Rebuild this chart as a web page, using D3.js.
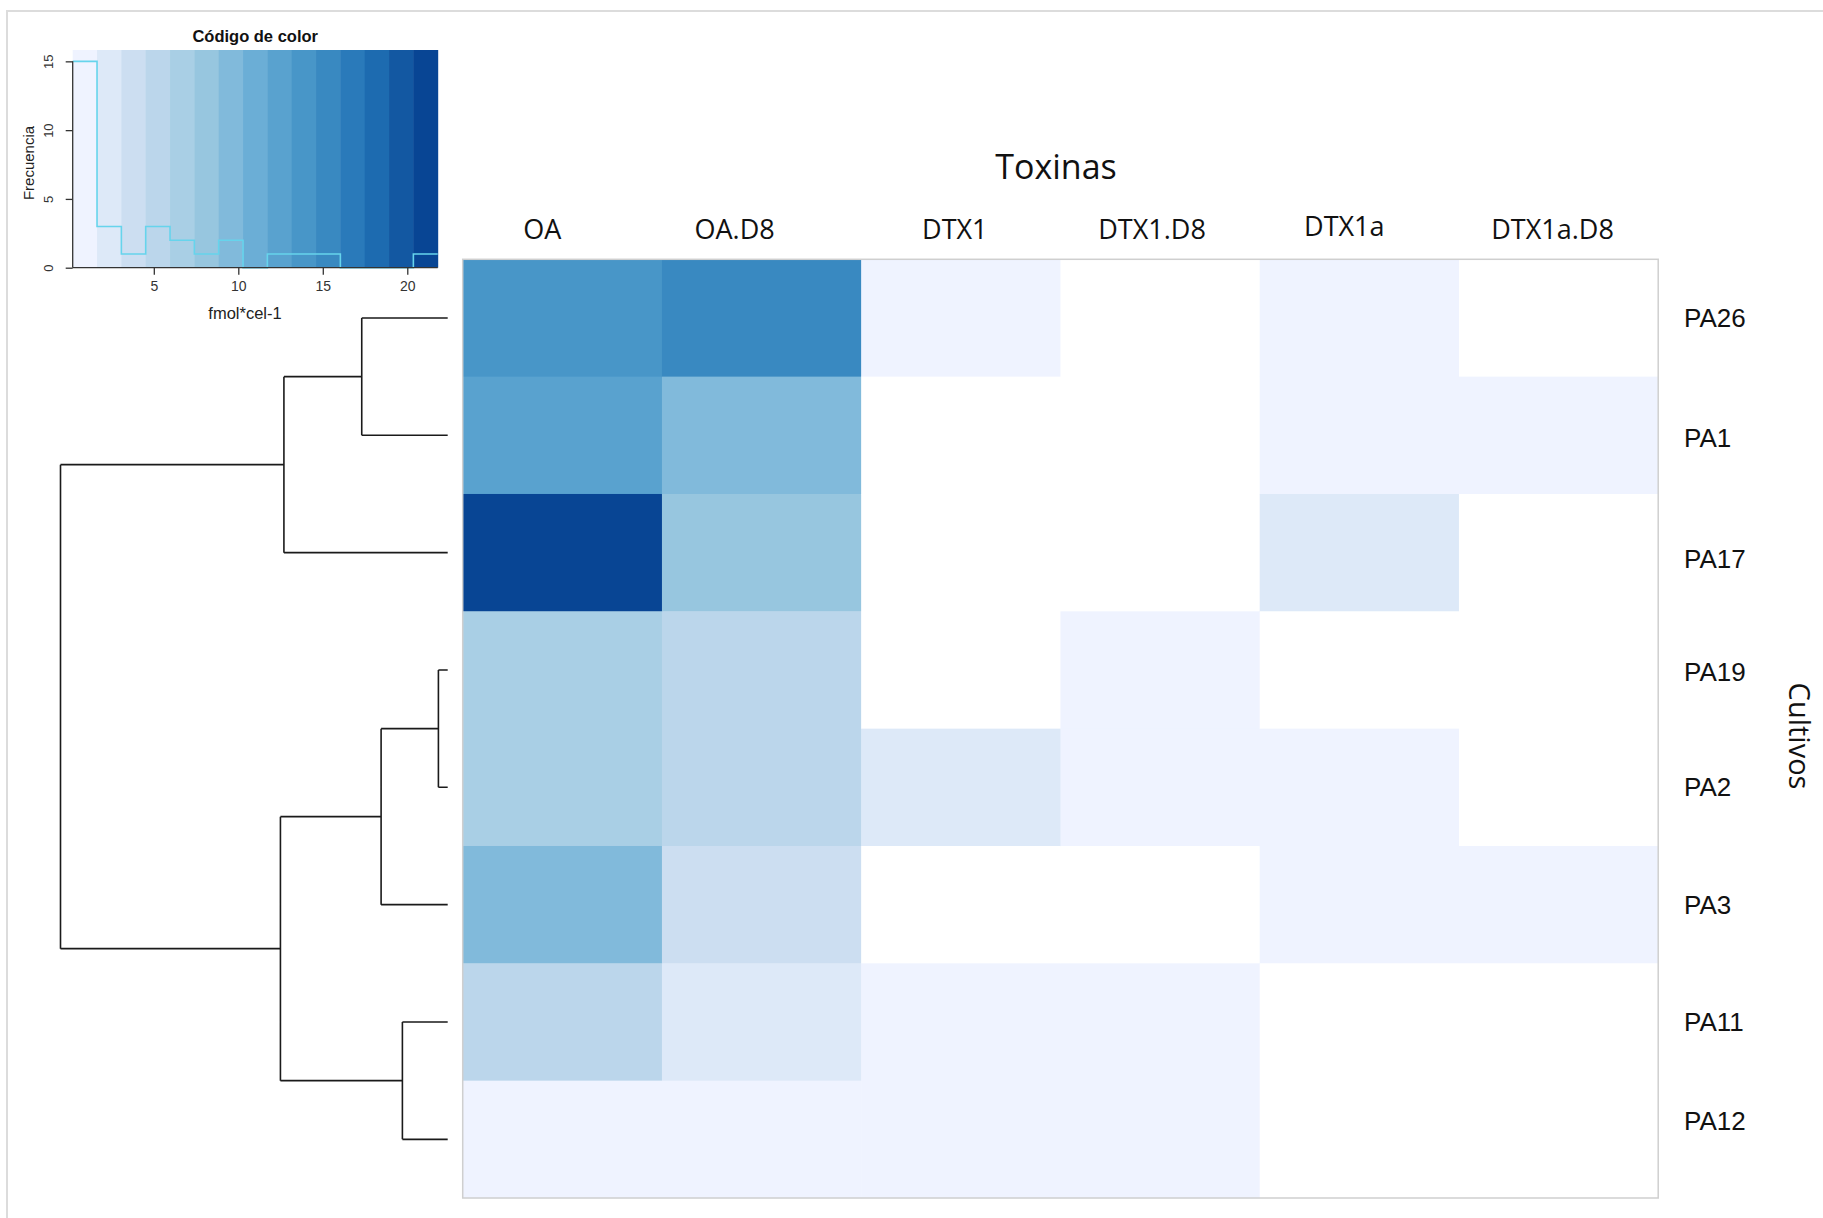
<!DOCTYPE html>
<html>
<head>
<meta charset="utf-8">
<script src="https://cdn.jsdelivr.net/npm/d3@7"></script>
<style>
  html, body { margin: 0; padding: 0; background: #fff; }
  svg { display: block; }
</style>
</head>
<body>
<svg id="chart" width="1823" height="1218"></svg>
<script>
// ---- data -------------------------------------------------------------
// Row order of the heatmap (cultures), top to bottom
const cultures = ["PA26", "PA1", "PA17", "PA19", "PA2", "PA3", "PA11", "PA12"];
// Toxin columns
const toxins = ["OA", "OA.D8", "DTX1", "DTX1.D8", "DTX1a", "DTX1a.D8"];

// Toxin content per culture (fmol*cel-1); null = not detected
const OA        = [13.9, 12.4, 21.8, 6.6, 6.9, 9.3, 5.0, 1.2];
const OA_D8     = [15.3, 9.6, 8.1, 5.2, 5.4, 3.8, 2.6, 1.0];
const DTX1      = [0.6, null, null, null, 2.0, null, 0.8, 0.2];
const DTX1_D8   = [null, null, null, 0.7, 0.9, null, 0.6, 0.5];
const DTX1a     = [0.4, 0.5, 2.3, null, 0.4, 0.6, null, null];
const DTX1a_D8  = [null, 0.3, null, null, null, 0.5, null, null];

// Cluster merge heights of the row dendrogram
const dendrogram = {
  height: 20, children: [
    { height: 8.46, children: [
      { height: 4.44, children: [{ name: "PA26" }, { name: "PA1" }] },
      { name: "PA17" }
    ]},
    { height: 8.64, children: [
      { height: 3.44, children: [
        { height: 0.48, children: [{ name: "PA19" }, { name: "PA2" }] },
        { name: "PA3" }
      ]},
      { height: 2.34, children: [{ name: "PA11" }, { name: "PA12" }] }
    ]}
  ]
};

// Colour key ticks
const keyXTicks = [5, 10, 15, 20];
const keyYTicks = [0, 5, 10, 15];
const nBreaks = 15;
// RColorBrewer "Blues" (7) ramp anchors
const bluesAnchors = ["#EFF3FF", "#C6DBEF", "#9ECAE1", "#6BAED6", "#4292C6", "#2171B5", "#084594"];

// ---- build ----------------------------------------------------------------
const seriesByToxin = [OA, OA_D8, DTX1, DTX1_D8, DTX1a, DTX1a_D8];
const cells = [];
toxins.forEach((t, j) => cultures.forEach((c, i) => {
  cells.push({ culture: c, toxin: t, value: seriesByToxin[j][i] });
}));
const values = cells.map(d => d.value).filter(v => v != null);
const vmin = d3.min(values), vmax = d3.max(values);

const ramp = d3.piecewise(d3.interpolateRgb, bluesAnchors);
const palette = d3.range(nBreaks).map(i => ramp(i / (nBreaks - 1)));
const color = d3.scaleQuantize().domain([vmin, vmax]).range(palette);
const breaks = d3.range(nBreaks + 1).map(i => vmin + (vmax - vmin) * i / nBreaks);

const svg = d3.select("#chart");
const W = 1823, H = 1218;

// outer frame (top and left edges)
svg.append("path")
  .attr("d", `M7,${H} V11 H${W}`)
  .attr("fill", "none").attr("stroke", "#dcdcdc").attr("stroke-width", 2);

// ---- heatmap --------------------------------------------------------------
const hm = { x0: 462.7, x1: 1658.2, y0: 259.3, y1: 1198 };
const x = d3.scaleBand().domain(toxins).range([hm.x0, hm.x1]);
const y = d3.scaleBand().domain(cultures).range([hm.y0, hm.y1]);

svg.append("g").selectAll("rect").data(cells).join("rect")
  .attr("x", d => x(d.toxin))
  .attr("y", d => y(d.culture))
  .attr("width", x.bandwidth() + 0.5)
  .attr("height", y.bandwidth() + 0.5)
  .attr("fill", d => d.value == null ? "#ffffff" : color(d.value));

svg.append("rect")
  .attr("x", hm.x0).attr("y", hm.y0)
  .attr("width", hm.x1 - hm.x0).attr("height", hm.y1 - hm.y0)
  .attr("fill", "none").attr("stroke", "#cfcfcf").attr("stroke-width", 1.5);

// column labels
const colNudge = { "OA": -20, "OA.D8": -27, "DTX1": -6, "DTX1.D8": -8, "DTX1a": -15, "DTX1a.D8": -6 };
const colNudgeY = { "DTX1a": -3 };
svg.append("g").selectAll("text").data(toxins).join("text")
  .attr("x", d => x(d) + x.bandwidth() / 2 + colNudge[d])
  .attr("y", d => 228 + (colNudgeY[d] || 0))
  .attr("text-anchor", "middle")
  .attr("dominant-baseline", "central")
  .attr("font-family", "'Open Sans', sans-serif")
  .attr("font-size", 27)
  .attr("fill", "#111")
  .text(d => d);

svg.append("text")
  .attr("x", 1056).attr("y", 166)
  .attr("text-anchor", "middle").attr("dominant-baseline", "central")
  .attr("font-family", "'Open Sans', sans-serif")
  .attr("font-size", 34).attr("fill", "#111")
  .text("Toxinas");

// row labels
const rowNudge = { "PA1": 3, "PA17": 6, "PA19": 2, "PA12": -18 };
svg.append("g").selectAll("text").data(cultures).join("text")
  .attr("x", 1684)
  .attr("y", d => y(d) + y.bandwidth() / 2 + (rowNudge[d] || 0))
  .attr("dominant-baseline", "central")
  .attr("font-family", "'Liberation Sans', Arial, sans-serif")
  .attr("font-size", 26)
  .attr("fill", "#111")
  .text(d => d);

svg.append("text")
  .attr("transform", "translate(1800,736) rotate(90)")
  .attr("text-anchor", "middle").attr("dominant-baseline", "central")
  .attr("font-family", "'Open Sans', sans-serif")
  .attr("font-size", 29).attr("fill", "#111")
  .text("Cultivos");

// ---- row dendrogram ---------------------------------------------------------
const root = d3.hierarchy(dendrogram);
const hx = d3.scaleLinear().domain([0, root.data.height]).range([447.7, 60.5]);
root.eachAfter(n => {
  n.px = hx(n.data.height || 0);
  n.py = n.children ? d3.mean(n.children, c => c.py) : y(n.data.name) + y.bandwidth() / 2;
});
const links = [];
root.each(n => {
  if (!n.children) return;
  const ys = n.children.map(c => c.py);
  links.push(`M${n.px},${d3.min(ys)}V${d3.max(ys)}`);
  n.children.forEach(c => links.push(`M${n.px},${c.py}H${c.px}`));
});
svg.append("path")
  .attr("d", links.join(""))
  .attr("fill", "none").attr("stroke", "#1a1a1a").attr("stroke-width", 1.6);

// ---- colour key with histogram ------------------------------------------------
const key = { x0: 72.7, x1: 437.7, y0: 50, y1: 267.7 };
const kx = d3.scaleLinear().domain([vmin, vmax]).range([key.x0, key.x1]);
const bins = d3.bin().domain([vmin, vmax]).thresholds(breaks.slice(1, -1))(values);
const counts = bins.map(b => b.length);
const ky = d3.scaleLinear().domain([0, d3.max(counts) * 1.055]).range([key.y1, key.y0]);

const kg = svg.append("g");
kg.selectAll("rect").data(palette).join("rect")
  .attr("x", (d, i) => kx(breaks[i]))
  .attr("y", key.y0)
  .attr("width", (d, i) => kx(breaks[i + 1]) - kx(breaks[i]) + 0.5)
  .attr("height", key.y1 - key.y0)
  .attr("fill", d => d);

const stepPts = breaks.map((b, i) => [b, counts[Math.min(i, counts.length - 1)]]);
kg.append("path")
  .attr("d", d3.line().x(d => kx(d[0])).y(d => ky(d[1])).curve(d3.curveStepAfter)(stepPts))
  .attr("fill", "none").attr("stroke", "#66d4ec").attr("stroke-width", 1.6);

// bottom edge
kg.append("line")
  .attr("x1", key.x0).attr("x2", key.x1).attr("y1", key.y1).attr("y2", key.y1)
  .attr("stroke", "#333").attr("stroke-width", 1.3);

// x axis
const xAxisG = kg.append("g").attr("transform", `translate(0,${key.y1})`)
  .call(d3.axisBottom(kx).tickValues(keyXTicks).tickSize(7).tickPadding(6).tickFormat(d3.format("d")));
xAxisG.select(".domain").remove();
xAxisG.selectAll("line").attr("stroke", "#333").attr("stroke-width", 1.3);
xAxisG.selectAll("text").attr("font-family", "'Liberation Sans', Arial, sans-serif")
  .attr("font-size", 14).attr("fill", "#333");

// y axis
const yAxisG = kg.append("g").attr("transform", `translate(${key.x0},0)`)
  .call(d3.axisLeft(ky).tickValues(keyYTicks).tickSize(7).tickPadding(0).tickFormat(d3.format("d")));
yAxisG.select(".domain")
  .attr("d", `M0,${ky(0)}V${ky(15)}`)
  .attr("stroke", "#333").attr("stroke-width", 1.3);
yAxisG.selectAll("line").attr("stroke", "#333").attr("stroke-width", 1.3);
yAxisG.selectAll("text")
  .attr("x", null).attr("dy", null)
  .attr("transform", "translate(-24,0) rotate(-90)")
  .attr("text-anchor", "middle").attr("dominant-baseline", "central")
  .attr("font-family", "'Liberation Sans', Arial, sans-serif")
  .attr("font-size", 13).attr("fill", "#333");

kg.append("text")
  .attr("x", (key.x0 + key.x1) / 2).attr("y", 36)
  .attr("text-anchor", "middle").attr("dominant-baseline", "central")
  .attr("font-family", "'Liberation Sans', Arial, sans-serif")
  .attr("font-weight", "bold").attr("font-size", 16.5).attr("fill", "#111")
  .text("Código de color");

kg.append("text")
  .attr("x", 245).attr("y", 313)
  .attr("text-anchor", "middle").attr("dominant-baseline", "central")
  .attr("font-family", "'Liberation Sans', Arial, sans-serif")
  .attr("font-size", 16.5).attr("fill", "#222")
  .text("fmol*cel-1");

kg.append("text")
  .attr("transform", "translate(28,163) rotate(-90)")
  .attr("text-anchor", "middle").attr("dominant-baseline", "central")
  .attr("font-family", "'Liberation Sans', Arial, sans-serif")
  .attr("font-size", 15).attr("fill", "#222")
  .text("Frecuencia");
</script>
</body>
</html>
